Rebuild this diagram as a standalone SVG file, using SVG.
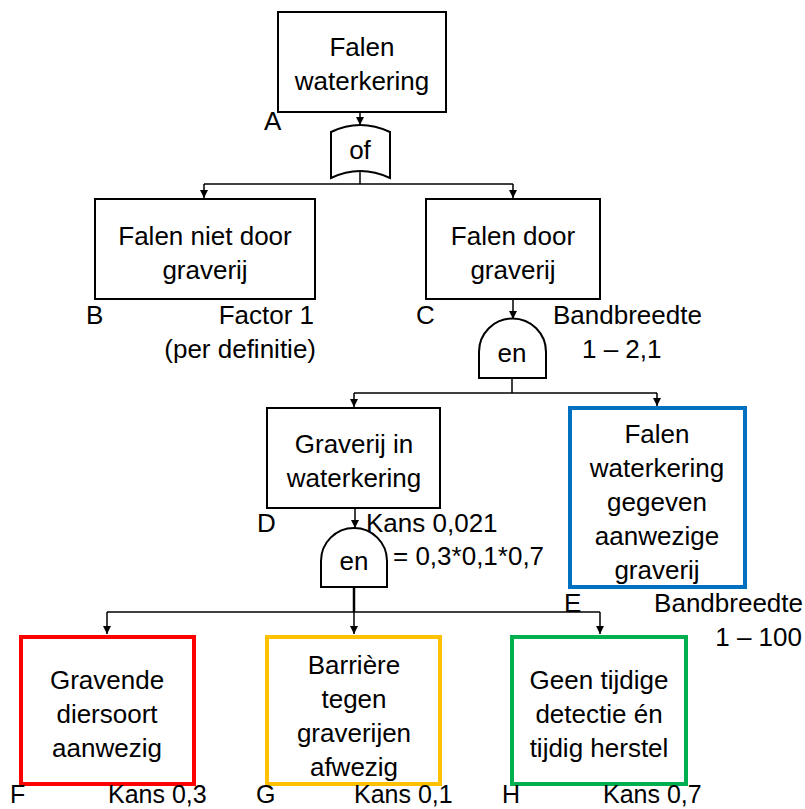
<svg xmlns="http://www.w3.org/2000/svg" width="805" height="809" viewBox="0 0 805 809">
<style>
text{font-family:"Liberation Sans",Arial,sans-serif;font-size:26px;fill:#000}
.c{text-anchor:middle}
.r{text-anchor:end}
.lb{font-size:25px}
.box{fill:#fff;stroke:#000;stroke-width:2}
.gate{fill:#fff;stroke:#000;stroke-width:2}
.ln{fill:none;stroke:#000;stroke-width:1.5}
</style>
<defs>
<marker id="ah" viewBox="0 0 10 10" refX="10" refY="5" markerWidth="8" markerHeight="8" markerUnits="userSpaceOnUse" orient="auto">
<path d="M0,0 L10,5 L0,10 Z" fill="#000"/>
</marker>
</defs>
<g id="connectors">
<path class="ln" d="M360,113 L360,125" marker-end="url(#ah)"/>
<path class="ln" d="M360,172 L360,184 M204,184 L513,184"/>
<path class="ln" d="M204,184 L204,198" marker-end="url(#ah)"/>
<path class="ln" d="M513,184 L513,198" marker-end="url(#ah)"/>
<path class="ln" d="M513,299 L513,319" marker-end="url(#ah)"/>
<path class="ln" d="M512,378 L512,393 M354,393 L657,393"/>
<path class="ln" d="M354,393 L354,407" marker-end="url(#ah)"/>
<path class="ln" d="M657,393 L657,406" marker-end="url(#ah)"/>
<path class="ln" d="M355,509 L355,528" marker-end="url(#ah)"/>
<path class="ln" d="M354,587 L354,612" style="stroke-width:2.5"/>
<path class="ln" d="M107,612 L600,612"/>
<path class="ln" d="M107,612 L107,634" marker-end="url(#ah)"/>
<path class="ln" d="M354,612 L354,634" marker-end="url(#ah)"/>
<path class="ln" d="M600,612 L600,634" marker-end="url(#ah)"/>
</g>
<g id="A">
<rect class="box" x="278" y="12" width="168" height="100"/>
<text class="c" x="362" y="56">Falen</text>
<text class="c" x="362" y="90">waterkering</text>
<text x="264" y="130">A</text>
</g>
<g id="gate-of">
<path class="gate" d="M331,132 Q360,118 390,132 L390,178 Q360,164 331,178 Z"/>
<text class="c" x="360" y="159">of</text>
</g>
<g id="B">
<rect class="box" x="95" y="199" width="220" height="100"/>
<text class="c" x="205" y="245">Falen niet door</text>
<text class="c" x="205" y="279">graverij</text>
<text x="86" y="324">B</text>
<text class="r" x="314" y="324">Factor 1</text>
<text class="r" x="316" y="358">(per definitie)</text>
</g>
<g id="C">
<rect class="box" x="426" y="199" width="174" height="100"/>
<text class="c" x="513" y="245">Falen door</text>
<text class="c" x="513" y="279">graverij</text>
<text x="416" y="324">C</text>
<text x="553" y="324">Bandbreedte</text>
<text x="582" y="358">1 – 2,1</text>
</g>
<g id="gate-en1">
<path class="gate" d="M479,378 L479,352 A33.5,33.5 0 0 1 546,352 L546,378 Z"/>
<text class="c" x="512" y="362">en</text>
</g>
<g id="D">
<rect class="box" x="267" y="408" width="173" height="100"/>
<text class="c" x="354" y="453">Graverij in</text>
<text class="c" x="354" y="487">waterkering</text>
<text x="257" y="532">D</text>
<text x="366" y="532">Kans 0,021</text>
<text x="393" y="565">= 0,3*0,1*0,7</text>
</g>
<g id="E">
<rect x="570" y="408" width="175" height="179" fill="#fff" stroke="#0070C0" stroke-width="4"/>
<text class="c" x="657" y="443">Falen</text>
<text class="c" x="657" y="477">waterkering</text>
<text class="c" x="657" y="511">gegeven</text>
<text class="c" x="657" y="545">aanwezige</text>
<text class="c" x="657" y="579">graverij</text>
<text x="564" y="612">E</text>
<text class="r" x="803" y="612">Bandbreedte</text>
<text class="r" x="802" y="646">1 – 100</text>
</g>
<g id="gate-en2">
<path class="gate" d="M321,587 L321,561 A33,33 0 0 1 387,561 L387,587 Z"/>
<text class="c" x="354" y="570">en</text>
</g>
<g id="F">
<rect x="21" y="637" width="173" height="147" fill="#fff" stroke="#FF0000" stroke-width="4"/>
<text class="c" x="107" y="689">Gravende</text>
<text class="c" x="107" y="723">diersoort</text>
<text class="c" x="107" y="757">aanwezig</text>
<text class="lb" x="10" y="803">F</text>
<text class="lb" x="108" y="803">Kans 0,3</text>
</g>
<g id="G">
<rect x="267" y="637" width="173" height="147" fill="#fff" stroke="#FFC000" stroke-width="4"/>
<text class="c" x="354" y="674">Barrière</text>
<text class="c" x="354" y="708">tegen</text>
<text class="c" x="354" y="742">graverijen</text>
<text class="c" x="354" y="776">afwezig</text>
<text class="lb" x="256" y="803">G</text>
<text class="lb" x="354" y="803">Kans 0,1</text>
</g>
<g id="H">
<rect x="512" y="637" width="174" height="147" fill="#fff" stroke="#00B050" stroke-width="4"/>
<text class="c" x="599" y="689">Geen tijdige</text>
<text class="c" x="599" y="723">detectie én</text>
<text class="c" x="599" y="757">tijdig herstel</text>
<text class="lb" x="502" y="803">H</text>
<text class="lb" x="603" y="803">Kans 0,7</text>
</g>
</svg>
